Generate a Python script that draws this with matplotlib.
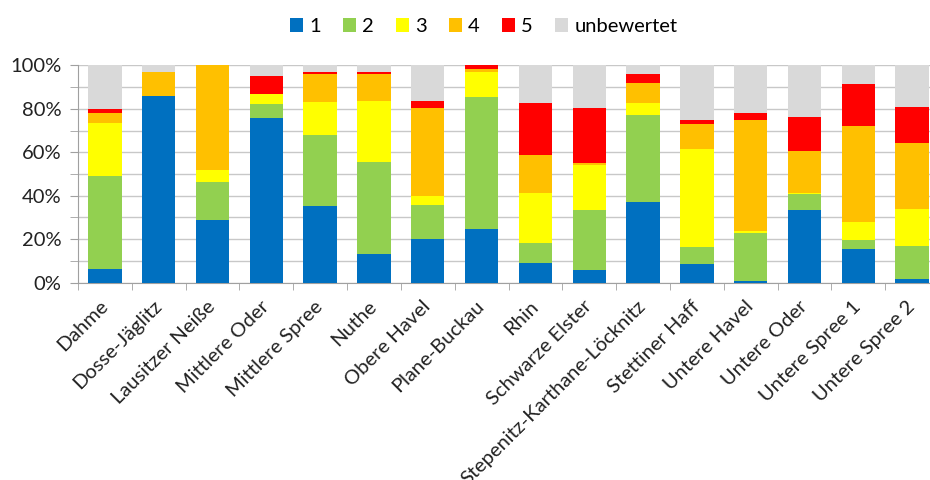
import matplotlib
matplotlib.use("Agg")
import matplotlib.pyplot as plt
from matplotlib.ticker import MultipleLocator, PercentFormatter
import numpy as np

plt.rcParams['font.family'] = ['Lato', 'DejaVu Sans']

# Gebiete (Planungseinheiten)
gebiete = ["Dahme", "Dosse-Jäglitz", "Lausitzer Neiße", "Mittlere Oder",
           "Mittlere Spree", "Nuthe", "Obere Havel", "Plane-Buckau", "Rhin",
           "Schwarze Elster", "Stepenitz-Karthane-Löcknitz", "Stettiner Haff",
           "Untere Havel", "Untere Oder", "Untere Spree 1", "Untere Spree 2"]

# Anteile je Bewertungsklasse in %
klasse_1 = [6.1, 86.0, 28.7, 75.6, 35.3, 13.2, 20.1, 24.5, 8.9, 5.7, 37.1, 8.4, 0.6, 33.4, 15.5, 1.8]
klasse_2 = [43.1, 0.0, 17.8, 6.6, 32.6, 42.2, 15.6, 60.9, 9.5, 27.6, 39.9, 8.0, 22.3, 7.6, 4.1, 15.1]
klasse_3 = [24.1, 0.0, 5.3, 4.8, 15.2, 28.3, 4.3, 11.5, 23.0, 20.7, 5.7, 45.1, 1.0, 0.4, 8.2, 16.8]
klasse_4 = [4.6, 11.1, 48.2, 0.0, 12.8, 12.2, 40.4, 1.3, 17.2, 0.9, 9.0, 11.4, 50.8, 19.2, 44.4, 30.7]
klasse_5 = [2.0, 0.0, 0.0, 7.9, 0.9, 1.0, 3.3, 1.8, 24.2, 25.5, 4.3, 1.9, 3.4, 15.5, 19.1, 16.4]
unbewertet = [20.1, 2.9, 0.0, 5.1, 3.2, 3.1, 16.3, 0.0, 17.2, 19.6, 4.0, 25.2, 21.9, 23.9, 8.7, 19.2]

serien = [("1", klasse_1, "#0070C0"),
          ("2", klasse_2, "#92D050"),
          ("3", klasse_3, "#FFFF00"),
          ("4", klasse_4, "#FFC000"),
          ("5", klasse_5, "#FF0000"),
          ("unbewertet", unbewertet, "#D9D9D9")]

fig = plt.figure(figsize=(9.3, 4.8), dpi=100)
ax = fig.add_axes([78 / 930, (480 - 282.7) / 480, (939 - 78) / 930, 217.4 / 480])

x = np.arange(len(gebiete))
unten = np.zeros(len(gebiete))
for name, werte, farbe in serien:
    werte = np.array(werte)
    ax.bar(x, werte, 0.62, bottom=unten, color=farbe, label=name, zorder=3)
    unten += werte

ax.set_xlim(-0.5, len(gebiete) - 0.5)
ax.set_ylim(0, 100)
ax.yaxis.set_major_locator(MultipleLocator(20))
ax.yaxis.set_minor_locator(MultipleLocator(10))
ax.yaxis.set_major_formatter(PercentFormatter(decimals=0))
ax.grid(axis='y', which='both', color='#C8C8C8', linewidth=1, zorder=0)

ax.set_xticks(x)
ax.set_xticklabels(gebiete, rotation=45, ha='right', va='center', rotation_mode='anchor',
                   fontsize=14.5, color='#222222')
ax.set_xticks(np.arange(len(gebiete) + 1) - 0.5, minor=True)
ax.tick_params(axis='x', which='major', length=0, pad=15)
ax.tick_params(axis='x', which='minor', length=5, color='#A0A0A0', direction='out')
ax.tick_params(axis='y', which='both', length=6, color='#A0A0A0', labelsize=14.5, labelcolor='#222222', pad=6)

for s in ['top', 'right']:
    ax.spines[s].set_visible(False)
for s in ['left', 'bottom']:
    ax.spines[s].set_color('#A0A0A0')

fig.legend(loc='upper center', bbox_to_anchor=(0.52, 1.0), ncol=6, frameon=False,
           fontsize=14.5, handlelength=0.65, handleheight=0.65, handletextpad=0.3,
           columnspacing=1.1)

fig.savefig("out.png", dpi=100)
